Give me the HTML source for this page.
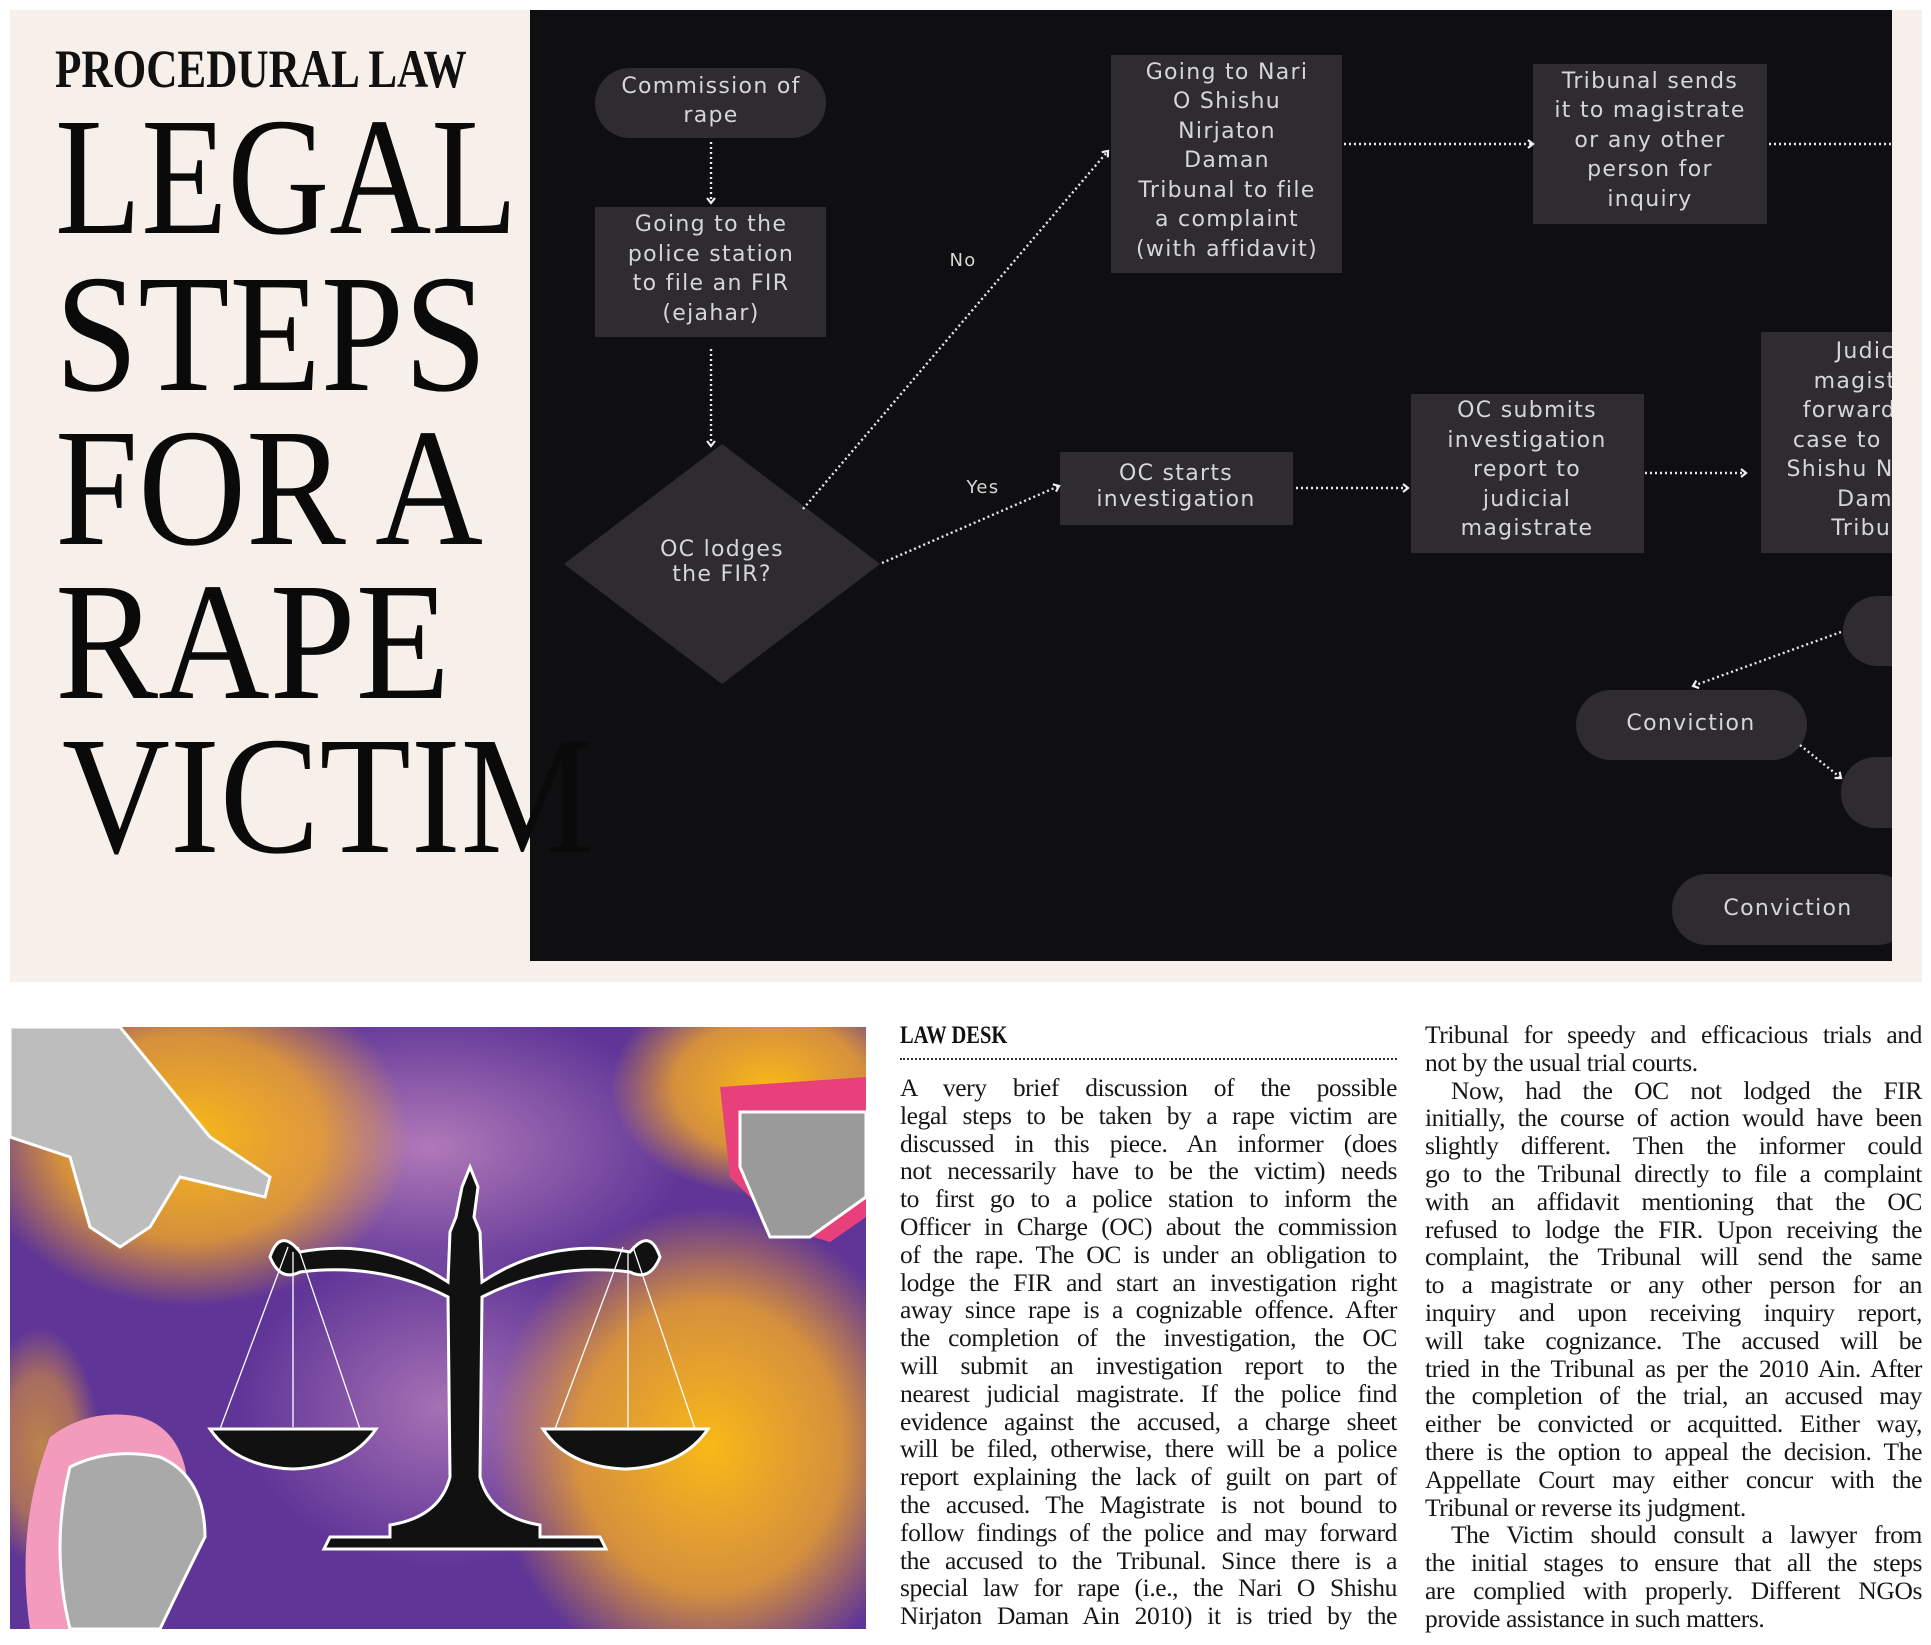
<!DOCTYPE html>
<html><head><meta charset="utf-8"><style>
html,body{margin:0;padding:0;background:#fff;}
body{width:1931px;height:1645px;position:relative;overflow:hidden;font-family:"Liberation Serif",serif;}
.cream{position:absolute;left:10px;top:10px;width:1912px;height:972px;background:#f7f0ea;}
.kick{position:absolute;left:55px;top:38px;font:bold 54px "Liberation Serif",serif;color:#111;transform:scaleX(.80);transform-origin:left top;white-space:nowrap;z-index:2;}
.big{position:absolute;z-index:2;left:55px;font:168px "Liberation Serif",serif;color:#0a0a0a;transform:scaleX(.84);transform-origin:left top;white-space:nowrap;line-height:1;}
.col{position:absolute;width:497px;font:25.5px "Liberation Serif",serif;color:#161616;letter-spacing:-0.4px;}
.col div{height:27.8px;line-height:27.8px;white-space:nowrap;text-align:justify;text-align-last:justify;}
.col div.e{text-align-last:left;}
.col div.i{padding-left:26px;}
.desk{position:absolute;left:900px;top:1022px;font:bold 25px "Liberation Serif",serif;transform:scaleX(.82);transform-origin:left top;color:#111;}
.dots{position:absolute;left:900px;top:1058px;width:497px;border-top:2px dotted #333;}
</style></head><body>
<div class="cream"></div>

<svg style="position:absolute;left:0;top:0" width="1931" height="990" viewBox="0 0 1931 990">
<defs>
<clipPath id="c"><rect x="530" y="10" width="1362" height="951"/></clipPath>
<marker id="a" markerWidth="10" markerHeight="10" refX="7" refY="5" orient="auto" markerUnits="userSpaceOnUse"><path d="M2,1 L7,5 L2,9" fill="none" stroke="#eee" stroke-width="2.2"/></marker>
</defs>
<rect x="530" y="10" width="1362" height="951" fill="#0f0e10"/>
<g clip-path="url(#c)" fill="#2e2c30">
<rect x="595" y="68" width="231" height="70" rx="35"/>
<rect x="595" y="207" width="231" height="130"/>
<polygon points="722,444 880,564 722,684 564,564"/>
<rect x="1111" y="55" width="231" height="218"/>
<rect x="1533" y="64" width="234" height="160"/>
<rect x="1060" y="452" width="233" height="73"/>
<rect x="1411" y="394" width="233" height="159"/>
<rect x="1761" y="332" width="240" height="221"/>
<rect x="1843" y="596" width="200" height="70" rx="35"/>
<rect x="1576" y="690" width="231" height="70" rx="35"/>
<rect x="1841" y="757" width="200" height="71" rx="35"/>
<rect x="1672" y="874" width="240" height="71" rx="35"/>
<g fill="none" stroke="#e8e8e8" stroke-width="2.4" stroke-dasharray="2 3" marker-end="url(#a)">
<line x1="711" y1="142" x2="711" y2="203"/>
<line x1="711" y1="349" x2="711" y2="446"/>
<line x1="803" y1="509" x2="1108" y2="151"/>
<line x1="882" y1="563" x2="1059" y2="486"/>
<line x1="1344" y1="144" x2="1533" y2="144"/>
<line x1="1769" y1="144" x2="1900" y2="144"/>
<line x1="1296" y1="488" x2="1408" y2="488"/>
<line x1="1645" y1="473" x2="1746" y2="473"/>
<line x1="1841" y1="632" x2="1693" y2="686"/>
<line x1="1800" y1="745" x2="1841" y2="778"/>
</g>
<g fill="#d6d6d6" font-family="DejaVu Sans, sans-serif" font-size="22" letter-spacing="1.3" text-anchor="middle" dominant-baseline="middle">
<text x="711" y="87">Commission of</text><text x="711" y="116">rape</text>
<text x="711" y="225">Going to the</text><text x="711" y="255">police station</text><text x="711" y="284">to file an FIR</text><text x="711" y="314">(ejahar)</text>
<text x="722" y="550">OC lodges</text><text x="722" y="575">the FIR?</text>
<text x="963" y="261" font-size="18">No</text><text x="983" y="488" font-size="18">Yes</text>
<text x="1227" y="73">Going to Nari</text><text x="1227" y="102">O Shishu</text><text x="1227" y="132">Nirjaton</text><text x="1227" y="161">Daman</text><text x="1227" y="191">Tribunal to file</text><text x="1227" y="220">a complaint</text><text x="1227" y="250">(with affidavit)</text>
<text x="1650" y="82">Tribunal sends</text><text x="1650" y="111">it to magistrate</text><text x="1650" y="141">or any other</text><text x="1650" y="170">person for</text><text x="1650" y="200">inquiry</text>
<text x="1176" y="474">OC starts</text><text x="1176" y="500">investigation</text>
<text x="1527" y="411">OC submits</text><text x="1527" y="441">investigation</text><text x="1527" y="470">report to</text><text x="1527" y="500">judicial</text><text x="1527" y="529">magistrate</text>
<text x="1880" y="352">Judicial</text><text x="1880" y="382">magistrate</text><text x="1880" y="411">forwards the</text><text x="1880" y="441">case to Nari O</text><text x="1880" y="470">Shishu Nirjaton</text><text x="1880" y="500">Daman</text><text x="1880" y="529">Tribunal</text>
<text x="1691" y="724">Conviction</text>
<text x="1788" y="909">Conviction</text>
</g>
</g>
</svg>

<div class="kick">PROCEDURAL LAW</div>
<div class="big" style="top:93px">LEGAL</div>
<div class="big" style="top:250px;transform:scaleX(.89)">STEPS</div>
<div class="big" style="top:404px;transform:scaleX(.89)">FOR A</div>
<div class="big" style="top:558px;transform:scaleX(.92)">RAPE</div>
<div class="big" style="top:712px;left:62px;transform:scaleX(.89)">VICTIM</div>

<svg style="position:absolute;left:10px;top:1027px" width="856" height="602" viewBox="0 0 856 602">
<defs>
<radialGradient id="y1" cx="0.5" cy="0.5" r="0.5"><stop offset="0" stop-color="#f9b917"/><stop offset=".6" stop-color="#f3a726" stop-opacity=".8"/><stop offset="1" stop-color="#f3a726" stop-opacity="0"/></radialGradient>
<radialGradient id="p1" cx="0.5" cy="0.5" r="0.5"><stop offset="0" stop-color="#c48ac0"/><stop offset="1" stop-color="#c48ac0" stop-opacity="0"/></radialGradient>
</defs>
<rect width="856" height="602" fill="#5f3597"/>
<ellipse cx="420" cy="120" rx="260" ry="140" fill="url(#p1)" opacity=".8"/>
<ellipse cx="430" cy="380" rx="200" ry="160" fill="url(#p1)" opacity=".7"/>
<ellipse cx="180" cy="110" rx="220" ry="170" fill="url(#y1)"/>
<ellipse cx="700" cy="420" rx="220" ry="240" fill="url(#y1)"/>
<ellipse cx="760" cy="60" rx="160" ry="110" fill="url(#y1)"/>
<ellipse cx="30" cy="420" rx="60" ry="120" fill="url(#y1)" opacity=".6"/>
<path d="M0,0 L110,0 L200,110 L260,150 L255,170 L170,150 L140,200 L110,220 L80,200 L60,130 L0,110 Z" fill="#bdbdbd" stroke="#fff" stroke-width="3"/>
<path d="M40,410 Q80,380 130,390 Q165,400 175,440 L190,520 Q150,560 140,602 L20,602 Q5,500 40,410Z" fill="#f29bbd"/>
<path d="M60,440 Q100,420 150,430 Q195,450 195,510 Q170,560 150,602 L60,602 Q40,520 60,440Z" fill="#a9a9a9" stroke="#fff" stroke-width="3"/>
<path d="M710,60 L856,50 L856,190 L820,215 L770,200 L720,150Z" fill="#e8407a"/>
<path d="M730,85 L856,85 L856,170 L800,210 L760,210 L730,140Z" fill="#9a9a9a" stroke="#fff" stroke-width="3"/>
<g fill="#111" stroke="#fff" stroke-width="3">
<path d="M452,160 L460,140 L468,160 L464,190 L470,205 L472,255 Q540,210 620,225 Q640,200 650,230 Q640,255 620,245 Q540,235 472,270 L470,450 Q480,490 530,498 L530,510 L590,510 L596,522 L314,522 L320,510 L380,510 L380,498 Q430,490 440,450 L438,270 Q370,235 290,245 Q270,255 260,230 Q270,200 290,225 Q370,210 438,255 L440,205 L446,190Z"/>
<path d="M200,402 L366,402 Q340,440 283,442 Q226,440 200,402Z"/>
<path d="M533,402 L698,402 Q672,440 615,442 Q558,440 533,402Z"/>
</g>
<g stroke="#fff" stroke-width="1.3" fill="none">
<path d="M278,220 L210,402 M288,220 L350,402 M283,225 L283,400"/>
<path d="M613,220 L545,402 M623,220 L685,402 M618,225 L618,400"/>
</g>
</svg>

<div class="desk">LAW DESK</div>
<div class="dots"></div>
<div class="col" style="left:900px;top:1074px">
<div>A very brief discussion of the possible</div>
<div>legal steps to be taken by a rape victim are</div>
<div>discussed in this piece. An informer (does</div>
<div>not necessarily have to be the victim) needs</div>
<div>to first go to a police station to inform the</div>
<div>Officer in Charge (OC) about the commission</div>
<div>of the rape. The OC is under an obligation to</div>
<div>lodge the FIR and start an investigation right</div>
<div>away since rape is a cognizable offence. After</div>
<div>the completion of the investigation, the OC</div>
<div>will submit an investigation report to the</div>
<div>nearest judicial magistrate. If the police find</div>
<div>evidence against the accused, a charge sheet</div>
<div>will be filed, otherwise, there will be a police</div>
<div>report explaining the lack of guilt on part of</div>
<div>the accused. The Magistrate is not bound to</div>
<div>follow findings of the police and may forward</div>
<div>the accused to the Tribunal. Since there is a</div>
<div>special law for rape (i.e., the Nari O Shishu</div>
<div>Nirjaton Daman Ain 2010) it is tried by the</div>
</div>
<div class="col" style="left:1425px;top:1021px">
<div>Tribunal for speedy and efficacious trials and</div>
<div class="e">not by the usual trial courts.</div>
<div class="i">Now, had the OC not lodged the FIR</div>
<div>initially, the course of action would have been</div>
<div>slightly different. Then the informer could</div>
<div>go to the Tribunal directly to file a complaint</div>
<div>with an affidavit mentioning that the OC</div>
<div>refused to lodge the FIR. Upon receiving the</div>
<div>complaint, the Tribunal will send the same</div>
<div>to a magistrate or any other person for an</div>
<div>inquiry and upon receiving inquiry report,</div>
<div>will take cognizance. The accused will be</div>
<div>tried in the Tribunal as per the 2010 Ain. After</div>
<div>the completion of the trial, an accused may</div>
<div>either be convicted or acquitted. Either way,</div>
<div>there is the option to appeal the decision. The</div>
<div>Appellate Court may either concur with the</div>
<div class="e">Tribunal or reverse its judgment.</div>
<div class="i">The Victim should consult a lawyer from</div>
<div>the initial stages to ensure that all the steps</div>
<div>are complied with properly. Different NGOs</div>
<div class="e">provide assistance in such matters.</div>
</div>
</body></html>
